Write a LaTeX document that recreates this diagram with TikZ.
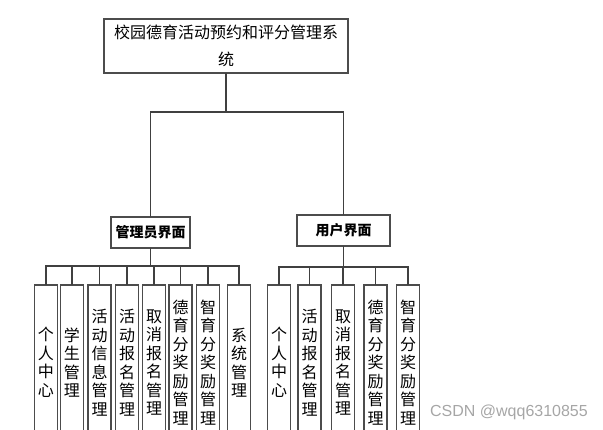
\documentclass[tikz,border=0pt]{standalone}
\usepackage{fontspec}
\setmainfont{Noto Sans CJK SC}
\newfontfamily\wmfont{Liberation Sans}
\usetikzlibrary{positioning}

\begin{document}
\begin{tikzpicture}
    [x=1pt,y=-1pt,line cap=rect,
    % Styles
    box/.style={draw=black!70,line width=1.4pt,fill=white,inner sep=0pt},
    title box/.style={box,minimum width=244pt,minimum height=54pt,
        text width=236pt,align=center,font=\fontsize{16}{27}\selectfont},
    group box/.style={box,minimum height=31pt,font=\fontsize{14}{16}\selectfont\bfseries},
    leaf/.style={box,minimum width=23pt,minimum height=155pt,
        text width=18pt,align=center,font=\fontsize{16}{18.5}\selectfont},
    link/.style={draw=black!75,line width=1.4pt}]

    \clip (0,0) rectangle (603,430);

    % top of the tree
    \node[title box] (title) at (226,46) {校园德育活动预约和评分管理系\\统};
    \node[group box,minimum width=79pt] (admin) at (150.5,232.5) {管理员界面};
    \node[group box,minimum width=93pt] (user) at (343.5,230.5) {用户界面};

    \coordinate (topbus) at (0,112);
    \draw[link] (title.south) -- (title.south |- topbus) -| (admin.north);
    \draw[link] (title.south |- topbus) -| (user.north);

    % admin leaves
    \foreach \i/\x/\t in {1/46/个\\人\\中\\心, 2/72/学\\生\\管\\理,
        3/99.5/活\\动\\信\\息\\管\\理, 4/127/活\\动\\报\\名\\管\\理,
        5/154/取\\消\\报\\名\\管\\理, 6/180.5/德\\育\\分\\奖\\励\\管\\理,
        7/208/智\\育\\分\\奖\\励\\管\\理, 8/239/系\\统\\管\\理}
        \node[leaf] (a\i) at (\x,362.5) {\t};

    \coordinate (abus) at (0,266);
    \draw[link] (admin.south) -- (admin.south |- abus);
    \draw[link] (a1.north) -- (a1.north |- abus) -- (a8.north |- abus) -- (a8.north);
    \foreach \i in {2,...,7}
        \draw[link] (a\i.north) -- (a\i.north |- abus);

    % user leaves
    \foreach \i/\x/\t in {1/279/个\\人\\中\\心, 2/309.5/活\\动\\报\\名\\管\\理,
        3/343/取\\消\\报\\名\\管\\理, 4/375.5/德\\育\\分\\奖\\励\\管\\理,
        5/408/智\\育\\分\\奖\\励\\管\\理}
        \node[leaf] (u\i) at (\x,362.5) {\t};

    \coordinate (ubus) at (0,267);
    \draw[link] (user.south) -- (user.south |- ubus);
    \draw[link] (u1.north) -- (u1.north |- ubus) -- (u5.north |- ubus) -- (u5.north);
    \foreach \i in {2,...,4}
        \draw[link] (u\i.north) -- (u\i.north |- ubus);

    % watermark
    \node[text=black!35,font=\wmfont\fontsize{16}{18}\selectfont] (mark) at (509,412) {CSDN @wqq6310855};
\end{tikzpicture}
\end{document}
